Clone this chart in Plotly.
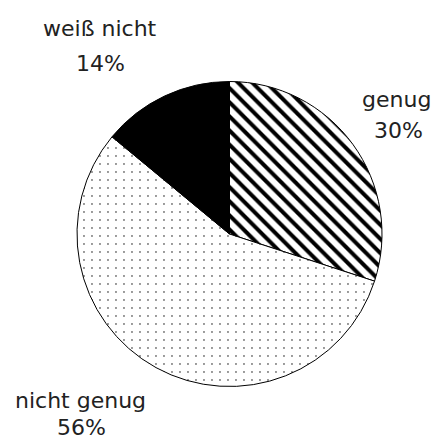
import plotly.graph_objects as go

labels = ["genug", "nicht genug", "weiß nicht"]
values = [30, 56, 14]
pct_text = ["30%", "56%", "14%"]

fills = ["white", "white", "black"]
shapes = ["\\", ".", ""]

fig = go.Figure(go.Pie(
    labels=labels,
    values=values,
    sort=False,
    direction="clockwise",
    rotation=0,
    textinfo="none",
    hoverinfo="label+percent",
    marker=dict(
        colors=fills,
        line=dict(color="black", width=1),
        pattern=dict(
            shape=shapes,
            fgcolor="black",
            bgcolor=fills,
            size=[10, 8, 8],
            solidity=[0.4, 0.025, 0.3],
            fillmode="replace",
        ),
    ),
    domain=dict(x=[77 / 437, 382 / 437], y=[1 - 387 / 441, 1 - 81 / 441]),
    showlegend=False,
))

font = dict(family="DejaVu Sans", size=22, color="#222222")
W, H = 437, 441
# label positions in pixel coordinates (centre x, middle y)
label_pos = {
    "weiß nicht": (100, 28),
    "genug": (396, 100),
    "nicht genug": (80, 400),
}
pct_pos = {
    "14%": (100, 64),
    "30%": (398, 130),
    "56%": (81, None),
}
for lab, pct in zip(labels, pct_text):
    x, y = label_pos[lab]
    fig.add_annotation(x=x / W, y=1 - y / H, xref="paper", yref="paper",
                       text=lab, showarrow=False, font=font,
                       xanchor="center", yanchor="middle")
    x, y = pct_pos[pct]
    if y is None:
        fig.add_annotation(x=x / W, y=0, xref="paper", yref="paper",
                           text=pct, showarrow=False, font=font,
                           xanchor="center", yanchor="bottom", borderpad=0)
    else:
        fig.add_annotation(x=x / W, y=1 - y / H, xref="paper", yref="paper",
                           text=pct, showarrow=False, font=font,
                           xanchor="center", yanchor="middle")

fig.update_layout(
    width=W, height=H,
    margin=dict(l=0, r=0, t=0, b=0),
    paper_bgcolor="white",
    plot_bgcolor="white",
)

fig.write_html(
    "out.html",
    config={"displayModeBar": False},
    post_script="document.body.style.margin='0';document.body.style.overflow='hidden';",
)
